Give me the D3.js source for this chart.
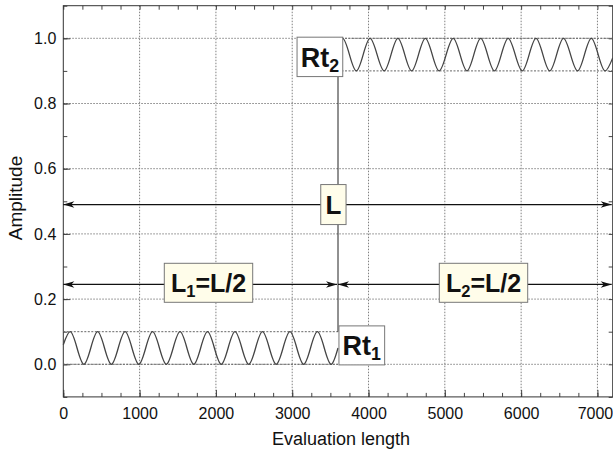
<!DOCTYPE html>
<meta charset="utf-8">
<title>Evaluation length</title>
<body>
<script src="https://cdn.jsdelivr.net/npm/d3@7"></script>
<style>
html, body {
    margin: 0;
    background: #fff;
}
svg {
    display: block;
    font-family: "Liberation Sans", Arial, sans-serif;
}
</style>
<script>
// extremes of the two profile segments
var rt1X = [0, 90, 270, 450, 630, 810, 990, 1170, 1350, 1530, 1710, 1890, 2070,
            2250, 2430, 2610, 2790, 2970, 3150, 3330, 3510, 3600];
var rt1Y = [0.06, 0.1, 0, 0.1, 0, 0.1, 0, 0.1, 0, 0.1, 0, 0.1, 0,
            0.1, 0, 0.1, 0, 0.1, 0, 0.1, 0, 0.05];

var rt2X = [3600, 3660, 3840, 4020, 4205, 4385, 4565, 4745, 4925, 5110, 5290, 5470,
            5650, 5830, 6015, 6195, 6375, 6555, 6740, 6920, 7100, 7200];
var rt2Y = [0.96, 1.0, 0.9, 1.0, 0.9, 1.0, 0.9, 1.0, 0.9, 1.0, 0.9, 1.0,
            0.9, 1.0, 0.9, 1.0, 0.9, 1.0, 0.9, 1.0, 0.9, 0.94];

var xTicks = [0, 1000, 2000, 3000, 4000, 5000, 6000, 7000];
var yTicks = [0.0, 0.2, 0.4, 0.6, 0.8, 1.0];

var width = 613,
    height = 454;

var x = d3.scaleLinear().domain([0, 7200]).range([63.3, 612.7]),
    y = d3.scaleLinear().domain([-0.1, 1.1]).range([396.9, 5.7]);

var xMinor = d3.range(0, 7201, 250),
    yMinor = d3.range(-0.1, 1.1001, 0.1);

var svg = d3.select("body").append("svg")
    .attr("width", width)
    .attr("height", height);

svg.append("defs").append("marker")
    .attr("id", "head")
    .attr("markerUnits", "userSpaceOnUse")
    .attr("viewBox", "-12 -5 13 10")
    .attr("markerWidth", 13)
    .attr("markerHeight", 10)
    .attr("refX", 0)
    .attr("refY", 0)
    .attr("orient", "auto-start-reverse")
    .append("path")
    .attr("d", "M0,0L-11,-3.3L-8,0L-11,3.3Z")
    .attr("fill", "#111");

// dotted grid
svg.append("g")
    .selectAll("line")
    .data(xTicks.slice(1))
    .enter().append("line")
    .attr("x1", x).attr("x2", x)
    .attr("y1", y(1.1)).attr("y2", y(-0.1))
    .attr("stroke", "#808080")
    .attr("stroke-dasharray", "1.5,1.5");

svg.append("g")
    .selectAll("line")
    .data(yTicks)
    .enter().append("line")
    .attr("y1", y).attr("y2", y)
    .attr("x1", x(0)).attr("x2", x(7200))
    .attr("stroke", "#808080")
    .attr("stroke-dasharray", "1.5,1.5");

// axes, ticks pointing inwards
function noText(g) {
    g.selectAll("text").remove();
    g.select(".domain").remove();
    g.selectAll("line").attr("stroke", "#444");
}

svg.append("g")
    .attr("transform", "translate(0," + y(-0.1) + ")")
    .call(d3.axisBottom(x).tickValues(xMinor).tickSize(-4).tickFormat(""))
    .call(noText);
svg.append("g")
    .attr("transform", "translate(0," + y(1.1) + ")")
    .call(d3.axisTop(x).tickValues(xMinor).tickSize(-4).tickFormat(""))
    .call(noText);
svg.append("g")
    .attr("transform", "translate(" + x(0) + ",0)")
    .call(d3.axisLeft(y).tickValues(yMinor).tickSize(-4).tickFormat(""))
    .call(noText);
svg.append("g")
    .attr("transform", "translate(" + x(7200) + ",0)")
    .call(d3.axisRight(y).tickValues(yMinor).tickSize(-4).tickFormat(""))
    .call(noText);

var xAxis = svg.append("g")
    .attr("transform", "translate(0," + y(-0.1) + ")")
    .call(d3.axisBottom(x).tickValues(xTicks).tickSize(-7).tickPadding(11).tickFormat(d3.format("d")));
var yAxis = svg.append("g")
    .attr("transform", "translate(" + x(0) + ",0)")
    .call(d3.axisLeft(y).tickValues(yTicks).tickSize(-7).tickPadding(7).tickFormat(d3.format(".1f")));

[xAxis, yAxis].forEach(function(g) {
    g.select(".domain").remove();
    g.selectAll("line").attr("stroke", "#444");
    g.selectAll("text")
        .attr("font-family", "Liberation Sans, Arial, sans-serif")
        .attr("font-size", 16)
        .attr("fill", "#111");
});

// last label sits against the right edge
xAxis.selectAll(".tick text")
    .filter(function(d) { return d === 7000; })
    .attr("x", -2.5);

svg.append("rect")
    .attr("x", x(0)).attr("y", y(1.1))
    .attr("width", x(7200) - x(0))
    .attr("height", y(-0.1) - y(1.1))
    .attr("fill", "none")
    .attr("stroke", "#333");

// envelopes of the two segments
var envelopes = [[0, 3600, 0], [0, 3600, 0.1], [3600, 7200, 0.9], [3600, 7200, 1.0]];
svg.append("g")
    .selectAll("line")
    .data(envelopes)
    .enter().append("line")
    .attr("x1", function(d) { return x(d[0]); })
    .attr("x2", function(d) { return x(d[1]); })
    .attr("y1", function(d) { return y(d[2]); })
    .attr("y2", function(d) { return y(d[2]); })
    .attr("stroke", "#666")
    .attr("stroke-dasharray", "2,1.5");

var line = d3.line()
    .x(function(d) { return x(d[0]); })
    .y(function(d) { return y(d[1]); })
    .curve(d3.curveMonotoneX);

[d3.zip(rt1X, rt1Y), d3.zip(rt2X, rt2Y)].forEach(function(pts) {
    svg.append("path")
        .attr("d", line(pts))
        .attr("fill", "none")
        .attr("stroke", "#444")
        .attr("stroke-width", 1.3);
});

// divider at L/2
svg.append("line")
    .attr("x1", x(3600)).attr("x2", x(3600))
    .attr("y1", y(1.0)).attr("y2", y(0.1))
    .attr("stroke", "#222");

// length arrows
var arrows = [[0, 7200, 0.49], [0, 3600, 0.245], [3600, 7200, 0.245]];
svg.append("g")
    .selectAll("line")
    .data(arrows)
    .enter().append("line")
    .attr("x1", function(d) { return x(d[0]); })
    .attr("x2", function(d) { return x(d[1]) - 1; })
    .attr("y1", function(d) { return y(d[2]); })
    .attr("y2", function(d) { return y(d[2]); })
    .attr("stroke", "#111")
    .attr("stroke-width", 1.3)
    .attr("marker-start", "url(#head)")
    .attr("marker-end", "url(#head)");

// labelled boxes
function label(cx, cy, w, h, fill, main, sub, rest, size) {
    var g = svg.append("g").attr("transform", "translate(" + cx + "," + cy + ")");
    g.append("rect")
        .attr("x", -w / 2).attr("y", -h / 2)
        .attr("width", w).attr("height", h)
        .attr("fill", fill)
        .attr("stroke", "#777");
    var t = g.append("text")
        .attr("text-anchor", "middle")
        .attr("y", size * 0.36)
        .attr("font-size", size)
        .attr("font-weight", "bold")
        .attr("fill", "#111");
    t.append("tspan").text(main);
    if (sub) {
        t.append("tspan").attr("dy", 5).attr("font-size", size * 0.66).text(sub);
        t.append("tspan").attr("dy", -5).text(rest);
    }
}

label(x(3600) - 22.5 + 4.4, y(0.943), 45.7, 39.4, "#fff", "Rt", "2", "", 27);
label(x(3600) + 23.8, y(0.058), 45.7, 39, "#fff", "Rt", "1", "", 27);
label(333.4, y(0.49), 25.3, 40, "#fffdea", "L", null, null, 26);
label(208.5, y(0.25), 88.4, 39, "#fffdea", "L", "1", "=L/2", 25);
label(483.5, y(0.25), 88.4, 39, "#fffdea", "L", "2", "=L/2", 25);

// axis titles
svg.append("text")
    .attr("x", 341)
    .attr("y", 444.5)
    .attr("text-anchor", "middle")
    .attr("font-size", 18)
    .attr("fill", "#111")
    .text("Evaluation length");

svg.append("text")
    .attr("transform", "translate(22,198)rotate(-90)")
    .attr("text-anchor", "middle")
    .attr("font-size", 19)
    .attr("fill", "#111")
    .text("Amplitude");
</script>
